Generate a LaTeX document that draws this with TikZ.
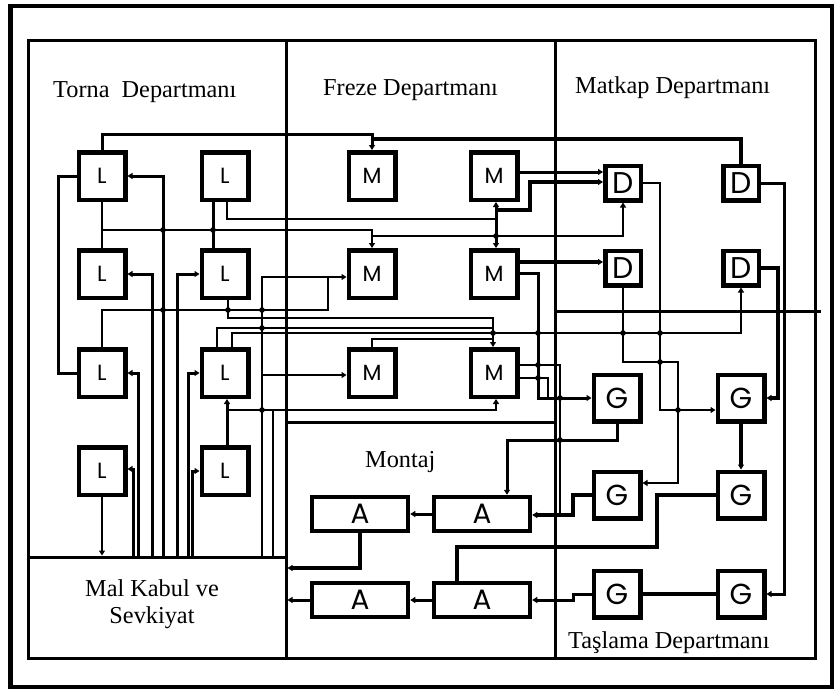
\documentclass[tikz,border=0pt]{standalone}
\usepackage{fontspec}
\setmainfont{Liberation Serif}
\newfontfamily\boxfont{Poppins}
\usetikzlibrary{arrows.meta}
\begin{document}
\begin{tikzpicture}[x=1pt,y=-1pt,
  mach/.style={draw, fill=white, line width=4.5pt, inner sep=0pt, minimum width=46.5pt, minimum height=47.5pt, font=\boxfont\fontsize{22}{22}\selectfont},
  dmach/.style={mach, minimum width=35.5pt, minimum height=34.5pt, font=\boxfont\fontsize{30}{30}\selectfont},
  gmach/.style={mach, minimum width=46.5pt, minimum height=46.5pt, font=\boxfont\fontsize{29}{29}\selectfont},
  amach/.style={mach, minimum width=96pt, minimum height=34pt, font=\boxfont\fontsize{28}{28}\selectfont},
  lab/.style={font=\fontsize{24.3}{29}\selectfont, inner sep=0pt, anchor=base west},
  clab/.style={font=\fontsize{24.3}{29}\selectfont, inner sep=0pt, anchor=base},
  region/.style={line width=3pt},
  cthin/.style={line width=2pt},
  cmed/.style={line width=3pt},
  cthick/.style={line width=4.5pt},
  arw/.style={-{Triangle[length=5pt,width=6pt]}},
  hop/.style={fill=black}
]
\useasboundingbox (0,0) rectangle (836,691);
% frames
\draw[line width=4.5pt] (10.5,6) rectangle (832,687);
\draw[region] (28,40) rectangle (815,658);
\draw[region] (286,40) -- (286,658);
\draw[region] (555,40) -- (555,658);
\draw[region] (286,422) -- (555,422);
\draw[region] (555,311) -- (821,311);
\node[draw, region, inner sep=0pt, minimum width=258pt, minimum height=101pt] (MK) at (157,607.5) {};
% labels
\node[lab] (tT) at (53,97) {Torna\hspace{0.5em}Departmanı};
\node[lab] (tF) at (323,95) {Freze Departmanı};
\node[lab] (tD) at (575,93) {Matkap Departmanı};
\node[lab] (tA) at (365,467) {Montaj};
\node[lab] (tG) at (568,648) {Taşlama Departmanı};
\node[clab] (tK1) at (152,596) {Mal Kabul ve};
\node[clab] (tK2) at (152,623) {Sevkiyat};
% machines
\node[mach] (L1) at (102,176) {L};
\node[mach] (L2) at (225,176) {L};
\node[mach] (L3) at (102,274) {L};
\node[mach] (L4) at (225,274) {L};
\node[mach] (L5) at (102,373) {L};
\node[mach] (L6) at (225,373) {L};
\node[mach] (L7) at (102,471) {L};
\node[mach] (L8) at (225,471) {L};
\node[mach] (M1) at (372,176) {M};
\node[mach] (M2) at (494,176) {M};
\node[mach] (M3) at (372,274) {M};
\node[mach] (M4) at (494,274) {M};
\node[mach] (M5) at (372,373) {M};
\node[mach] (M6) at (494,373) {M};
\node[dmach] (D1) at (623,183) {D};
\node[dmach] (D2) at (741,183) {D};
\node[dmach] (D3) at (623,268) {D};
\node[dmach] (D4) at (741,268) {D};
\node[gmach] (G1) at (617,398) {G};
\node[gmach] (G2) at (741,398) {G};
\node[gmach] (G3) at (617,495) {G};
\node[gmach] (G4) at (741,495) {G};
\node[gmach] (G5) at (617,594) {G};
\node[gmach] (G6) at (741,594) {G};
\node[amach] (A1) at (360,514) {A};
\node[amach] (A2) at (482,514) {A};
\node[amach] (A3) at (360,600) {A};
\node[amach] (A4) at (482,600) {A};
% Torna connectors
\draw[cmed,arw] (L1.north) -- (102,134) -- (372,134) -- (M1.north);
\draw[cthick] (M1.north |- 0,139) -- (741,139) -- (D2.north);
\draw[cmed] (L1.west) -- (58,176) -- (58,373) -- (L5.west);
\draw[cmed,arw] (163,0 |- MK.north) -- (163,176) -- (L1.east);
\draw[cmed,arw] (152,0 |- MK.north) -- (152,274) -- (L3.east);
\draw[cmed,arw] (138,0 |- MK.north) -- (138,373) -- (L5.east);
\draw[cmed,arw] (133,0 |- MK.north) -- (133,469) -- (L7.east |- 0,469);
\draw[cmed,arw] (177,0 |- MK.north) -- (177,274) -- (L4.west);
\draw[cmed,arw] (188,0 |- MK.north) -- (188,373) -- (L6.west);
\draw[cmed,arw] (192,0 |- MK.north) -- (192,471) -- (L8.west);
\draw[cthin,arw] (L7.south) -- (102,0 |- MK.north);
\draw[cthin] (L1.south) -- (L3.north);
\draw[cthin,arw] (102,230) -- (372,230) -- (M3.north);
\draw[cthin,arw] (M3.north |- 0,236) -- (623,236) -- (D1.south);
\draw[cmed] (213,0 |- L2.south) -- (213,0 |- L4.north);
\draw[cthin] (227,0 |- L2.south) -- (227,219) -- (496,219);
\draw[cmed,arw] (496,219) -- (496,0 |- M2.south);
\draw[cmed,arw] (496,219) -- (496,0 |- M4.north);
\draw[cthin] (L5.north) -- (102,310) -- (328,310) -- (328,277);
\draw[cthin,arw] (262,0 |- MK.north) -- (262,277) -- (M3.west |- 0,277);
\draw[cthin,arw] (262,375) -- (M5.west |- 0,375);
\draw[cthin,arw] (228,0 |- L4.south) -- (228,318) -- (493,318) -- (493,0 |- M6.north);
\draw[cthin] (217,0 |- L6.north) -- (217,328) -- (493,328);
\draw[cthin,arw] (232,0 |- L6.north) -- (232,333) -- (741,333) -- (D4.south);
\draw[cthin] (M5.north) -- (372,339) -- (493,339);
\draw[cmed,arw] (227,0 |- L8.north) -- (227,0 |- L6.south);
\draw[cthin,arw] (227,410) -- (496,410) -- (496,0 |- M6.south);
\draw[cthin] (273,0 |- MK.north) -- (273,410);
% Freze connectors
\draw[cmed,arw] (M2.east |- 0,172) -- (D1.west |- 0,172);
\draw[cthick,arw] (496,210) -- (530,210) -- (530,182) -- (D1.west |- 0,182);
\draw[cthick,arw] (M4.east |- 0,262) -- (D3.west |- 0,262);
\draw[cmed,arw] (M4.east |- 0,273) -- (538,273) -- (538,398) -- (G1.west);
\draw[cthin] (M6.east |- 0,378) -- (548,378) -- (548,398);
\draw[cthin] (M6.east |- 0,365) -- (560,365) -- (560,515);
% Matkap connectors
\draw[cthin,arw] (D1.east) -- (660,183) -- (660,410) -- (G2.west |- 0,410);
\draw[cthin,arw] (D3.south) -- (623,362) -- (678,362) -- (678,483) -- (G3.east |- 0,483);
\draw[cthick,arw] (D4.east) -- (778,268) -- (778,398) -- (G2.east);
\draw[cmed,arw] (D2.east) -- (784,183) -- (784,594) -- (G6.east);
% Taslama connectors
\draw[cthick,arw] (G2.south) -- (G4.north);
\draw[cthick] (G6.west) -- (G5.east);
\draw[cmed,arw] (G1.south) -- (617,440) -- (507,440) -- (507,0 |- A2.north);
\draw[cthick,arw] (G3.west) -- (573,495) -- (573,515) -- (A2.east |- 0,515);
\draw[cthick] (G4.west) -- (657,495) -- (657,547) -- (457,547) -- (457,0 |- A4.north);
\draw[cmed,arw] (G5.west) -- (573,594) -- (573,600) -- (A4.east);
% Montaj connectors
\draw[cmed,arw] (A2.west) -- (A1.east);
\draw[cmed,arw] (A4.west) -- (A3.east);
\draw[cthick,arw] (A1.south) -- (360,568) -- (MK.east |- 0,568);
\draw[cmed,arw] (A3.west) -- (MK.east |- 0,600);
% hops
\foreach \p in {(163,230),(213,230),(163,310),(228,310),(262,310),(262,328),(262,410),(496,236),(493,333),(538,333),(623,333),(660,333),(660,362),(538,365),(538,378),(560,398),(678,410),(560,440)}
  \fill[hop] \p circle (2.8pt);
\end{tikzpicture}
\end{document}
